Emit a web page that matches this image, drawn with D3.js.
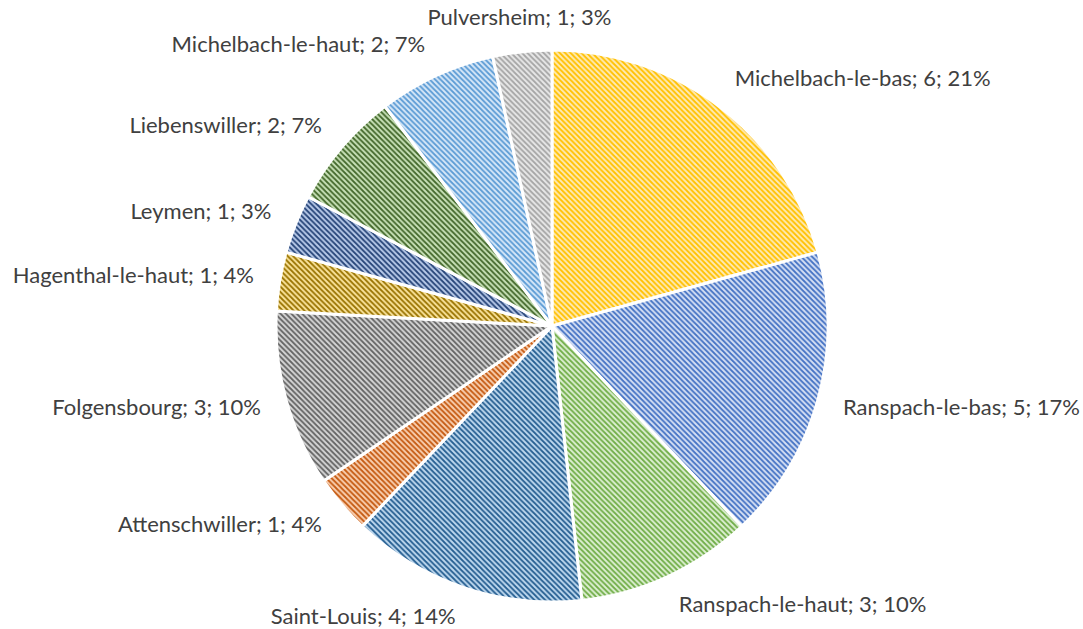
<!DOCTYPE html>
<html>
<head>
<meta charset="utf-8">
<script src="https://cdn.jsdelivr.net/npm/d3@7"></script>
<style>
  html, body { margin: 0; padding: 0; background: #fff; }
  svg { display: block; }
  .lbl { font-family: Lato, "Liberation Sans", Arial, sans-serif; font-size: 22px; fill: #404040; }
</style>
</head>
<body>
<svg id="vis" width="1083" height="629"></svg>
<script>
const communes = ["Michelbach-le-bas", "Ranspach-le-bas", "Ranspach-le-haut", "Saint-Louis",
  "Attenschwiller", "Folgensbourg", "Hagenthal-le-haut", "Leymen", "Liebenswiller",
  "Michelbach-le-haut", "Pulversheim"];
const counts = [6, 5, 3, 4, 1, 3, 1, 1, 2, 2, 1];
const percents = [21, 17, 10, 14, 4, 10, 4, 3, 7, 7, 3];
// pattern foreground / background per slice
const fgColors = ["#FFC000", "#4472C4", "#70AD47", "#255E91", "#C55A11", "#636363",
  "#997300", "#264478", "#43682B", "#5B9BD5", "#A5A5A5"];
const bgColors = ["#FFEBB3", "#D6E0F4", "#DDEFD2", "#BFD9EF", "#F9CFB0", "#D6D6D6",
  "#FBE49C", "#B9CBEA", "#C9E2B8", "#D7E8F8", "#E8E8E8"];

const config = {
  cx: 552,
  cy: 326,
  radius: 276,
  labelRadius: 302,
  lineH: 16,
  step: 5.4,
}

const svg = d3.select("#vis");
const defs = svg.append("defs");

communes.forEach((c, i) => {
  const s = config.step;
  const p = defs.append("pattern")
    .attr("id", "pat" + i)
    .attr("patternUnits", "userSpaceOnUse")
    .attr("width", s).attr("height", s);
  p.append("rect").attr("width", s).attr("height", s).attr("fill", bgColors[i]);
  p.append("path")
    .attr("d", `M0,0L${s},${s}M${-s/2},${s/2}L${s/2},${s*1.5}M${s/2},${-s/2}L${s*1.5},${s/2}`)
    .attr("stroke", fgColors[i])
    .attr("stroke-width", 1.8);
});

const data = communes.map((name, i) => ({name, value: counts[i], pct: percents[i], i}));

const pie = d3.pie().sort(null).value(d => d.value);
const arc = d3.arc().innerRadius(0).outerRadius(config.radius);
const arcs = pie(data);

const g = svg.append("g").attr("transform", `translate(${config.cx},${config.cy})`);

g.selectAll("path.slice")
  .data(arcs)
  .join("path")
  .attr("class", "slice")
  .attr("d", arc)
  .attr("fill", d => `url(#pat${d.data.i})`)
  .attr("stroke", "#fff")
  .attr("stroke-width", 3)
  .attr("stroke-linejoin", "round");

g.selectAll("text.lbl")
  .data(arcs)
  .join("text")
  .attr("class", "lbl")
  .each(function(d) {
    const a = (d.startAngle + d.endAngle) / 2;
    const s = Math.sin(a), c = Math.cos(a);
    const x = config.labelRadius * s;
    // labels below the pie get a smaller push so they stay inside the frame
    const push = c < 0 ? config.lineH * 0.3 : config.lineH / 2;
    const y = -config.labelRadius * c - c * push;
    const anchor = Math.abs(s) < 0.25 ? "middle" : (s > 0 ? "start" : "end");
    d3.select(this)
      .attr("x", x)
      .attr("y", y)
      .attr("dy", "0.33em")
      .attr("text-anchor", anchor)
      .text(`${d.data.name}; ${d.data.value}; ${d.data.pct}%`);
  });
</script>
</body>
</html>
